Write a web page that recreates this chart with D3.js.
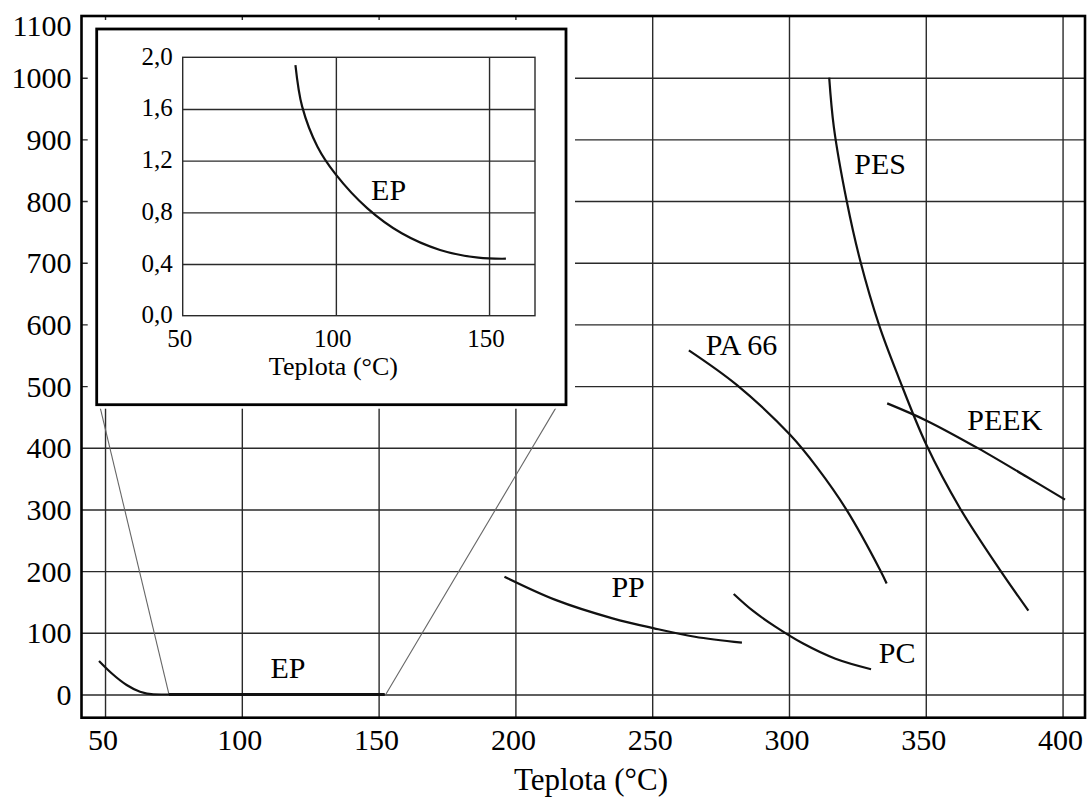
<!DOCTYPE html>
<html>
<head>
<meta charset="utf-8">
<script src="https://cdnjs.cloudflare.com/ajax/libs/d3/7.8.5/d3.min.js"></script>
<style>
  body { margin: 0; background: #fff; }
  svg text { font-family: "Liberation Serif", "Times New Roman", Times, serif; }
</style>
</head>
<body>
<script>
//tick values for the main chart and the inset
var xTicks = [50, 100, 150, 200, 250, 300, 350, 400];
var yTicks = [0, 100, 200, 300, 400, 500, 600, 700, 800, 900, 1000, 1100];
var insetXTicks = [50, 100, 150];
var insetYTicks = [0, 0.4, 0.8, 1.2, 1.6, 2.0];

//curves, [teplota, value]
var ep   = [[47.8,54.3],[52.4,34.4],[57.9,15.4],[62.8,4.5],[67.7,0.3],[73.4,0],[152.2,0]];
var pp   = [[196,191],[214.9,153],[235.5,123.5],[250.7,107.3],[265.6,93.7],[282.8,84]];
var pc   = [[279.8,163],[287,135],[295,110],[305,83],[317,58],[330,41]];
var pa66 = [[263.4,558],[280.9,502],[300.4,421],[310.1,369],[321.1,299],[333.3,202],[335.7,180]];
var pes  = [[314.7,1000],[316.4,920],[321.1,800],[326,704],[333,598],[340,515],[350.3,404],[362.5,302],[377.1,202],[387.5,136]];
var peek = [[335.9,472],[350.3,444],[369.2,399],[386.9,353],[400.9,316]];

//EP curve of the inset (zoomed in)
var epInset = [[86.8,1.94],[89,1.618],[94,1.308],[99.7,1.102],[110.3,0.831],[121.5,0.638],[134,0.509],[146.5,0.449],[155.5,0.441]];

//lines joining the inset to the flat part of EP
var connectors = [
  [[47.55,477.7],[73.4,0]],
  [[216.3,476],[152.6,0]]
];

//curve names and where they sit
var labelNames = ["EP", "PP", "PC", "PA 66", "PES", "PEEK"];
var labelX = [110.5, 235.1, 332.8, 269.6, 323.9, 365.2];
var labelY = [26.7, 157.5, 50.4, 550.2, 843.1, 428.7];

var W = 1088, H = 803;
var margin = { top: 16, right: 3, bottom: 85.3, left: 81.5 };
var serif = "'Liberation Serif', 'Times New Roman', Times, serif";

var svg = d3.select("body").append("svg")
    .attr("width", W)
    .attr("height", H)
    .attr("font-family", serif);

//main scales, the domain runs a little past the ticks like the original frame
var x = d3.scaleLinear().domain([41.4, 408.2]).range([margin.left, W - margin.right]);
var y = d3.scaleLinear().domain([-37.6, 1100]).range([H - margin.bottom, margin.top]);

var line = d3.line()
    .x(function(d) { return x(d[0]); })
    .y(function(d) { return y(d[1]); })
    .curve(d3.curveCatmullRom.alpha(0.5));

//gridlines
svg.append("g")
    .attr("transform", "translate(0," + (H - margin.bottom) + ")")
    .call(d3.axisBottom(x).tickValues(xTicks).tickSize(-(H - margin.bottom - margin.top)).tickFormat(""))
    .call(function(g) { g.select(".domain").remove(); })
    .selectAll("line").attr("stroke", "#2a2a2a").attr("stroke-width", 1.4);

svg.append("g")
    .attr("transform", "translate(" + margin.left + ",0)")
    .call(d3.axisLeft(y).tickValues(yTicks.slice(0, -1)).tickSize(-(W - margin.left - margin.right)).tickFormat(""))
    .call(function(g) { g.select(".domain").remove(); })
    .selectAll("line").attr("stroke", "#2a2a2a").attr("stroke-width", 1.4);

//thin connector lines to the inset
svg.selectAll(".conn")
    .data(connectors)
  .enter().append("path")
    .attr("class", "conn")
    .attr("d", d3.line().x(function(d) { return x(d[0]); }).y(function(d) { return y(d[1]); }))
    .attr("fill", "none")
    .attr("stroke", "#666")
    .attr("stroke-width", 1.1);

//material curves (EP keeps monotone so it does not dip under zero)
svg.append("path")
    .attr("d", line.curve(d3.curveMonotoneX)(ep))
    .attr("fill", "none")
    .attr("stroke", "#111")
    .attr("stroke-width", 2.2);
line.curve(d3.curveCatmullRom.alpha(0.5));

var curves = [pp, pc, pa66, pes, peek];
svg.selectAll(".curve")
    .data(curves)
  .enter().append("path")
    .attr("class", "curve")
    .attr("d", line)
    .attr("fill", "none")
    .attr("stroke", "#111")
    .attr("stroke-width", 2.2);

//flat part of EP is drawn heavier
svg.append("path")
    .attr("d", d3.line().x(function(d) { return x(d[0]); }).y(function(d) { return y(d[1]); })(ep.slice(-2)))
    .attr("stroke", "#111")
    .attr("stroke-width", 3);

//curve labels
svg.selectAll(".lbl")
    .data(labelNames)
  .enter().append("text")
    .attr("class", "lbl")
    .attr("x", function(d, i) { return x(labelX[i]); })
    .attr("y", function(d, i) { return y(labelY[i]); })
    .attr("font-size", 30)
    .text(function(d) { return d; });

//main frame
svg.append("rect")
    .attr("x", margin.left)
    .attr("y", margin.top)
    .attr("width", W - margin.left - margin.right)
    .attr("height", H - margin.top - margin.bottom)
    .attr("fill", "none")
    .attr("stroke", "#000")
    .attr("stroke-width", 2.6);

//tick labels, 1100 is pushed down a little so it stays inside the page
svg.selectAll(".ylab")
    .data(yTicks)
  .enter().append("text")
    .attr("class", "ylab")
    .attr("x", margin.left - 10)
    .attr("y", function(d) { return Math.max(y(d), 25); })
    .attr("dy", "0.35em")
    .attr("text-anchor", "end")
    .attr("font-size", 30)
    .text(function(d) { return d; });

svg.selectAll(".xlab")
    .data(xTicks)
  .enter().append("text")
    .attr("class", "xlab")
    .attr("x", function(d) { return x(d) - 2; })
    .attr("y", 750)
    .attr("text-anchor", "middle")
    .attr("font-size", 30)
    .text(function(d) { return d; });

//x axis title
svg.append("text")
    .attr("x", 591)
    .attr("y", 790)
    .attr("text-anchor", "middle")
    .attr("font-size", 31)
    .text("Teplota (°C)");

// ---------- inset ----------
var box = { left: 96.7, top: 29, right: 566, bottom: 404.7 };

//white gap around the inset hides the grid behind it
svg.append("rect")
    .attr("x", box.left - 9)
    .attr("y", box.top - 9)
    .attr("width", box.right - box.left + 18)
    .attr("height", box.bottom - box.top + 13)
    .attr("fill", "#fff");

svg.append("rect")
    .attr("x", box.left)
    .attr("y", box.top)
    .attr("width", box.right - box.left)
    .attr("height", box.bottom - box.top)
    .attr("fill", "#fff")
    .attr("stroke", "#000")
    .attr("stroke-width", 2.8);

var ix = d3.scaleLinear().domain([50, 165]).range([182.7, 535]);
var iy = d3.scaleLinear().domain([0, 2]).range([315.7, 57.3]);

var comma = function(d) { return d3.format(".1f")(d).replace(".", ","); };

//inset gridlines
svg.append("g")
    .attr("transform", "translate(0," + iy(0) + ")")
    .call(d3.axisBottom(ix).tickValues(insetXTicks.slice(1)).tickSize(-(iy(0) - iy(2))).tickFormat(""))
    .call(function(g) { g.select(".domain").remove(); })
    .selectAll("line").attr("stroke", "#2a2a2a").attr("stroke-width", 1.4);

svg.append("g")
    .attr("transform", "translate(" + ix(50) + ",0)")
    .call(d3.axisLeft(iy).tickValues(insetYTicks.slice(1, -1)).tickSize(-(ix(165) - ix(50))).tickFormat(""))
    .call(function(g) { g.select(".domain").remove(); })
    .selectAll("line").attr("stroke", "#2a2a2a").attr("stroke-width", 1.4);

svg.append("rect")
    .attr("x", ix(50))
    .attr("y", iy(2))
    .attr("width", ix(165) - ix(50))
    .attr("height", iy(0) - iy(2))
    .attr("fill", "none")
    .attr("stroke", "#2a2a2a")
    .attr("stroke-width", 1.4);

svg.append("path")
    .attr("d", d3.line()
        .x(function(d) { return ix(d[0]); })
        .y(function(d) { return iy(d[1]); })
        .curve(d3.curveCatmullRom.alpha(0.5))(epInset))
    .attr("fill", "none")
    .attr("stroke", "#111")
    .attr("stroke-width", 2.2);

svg.append("text")
    .attr("x", ix(111.5))
    .attr("y", iy(0.896))
    .attr("font-size", 30)
    .text("EP");

svg.selectAll(".iylab")
    .data(insetYTicks)
  .enter().append("text")
    .attr("class", "iylab")
    .attr("x", ix(50) - 10)
    .attr("y", function(d) { return iy(d); })
    .attr("dy", "0.3em")
    .attr("text-anchor", "end")
    .attr("font-size", 25)
    .text(comma);

svg.selectAll(".ixlab")
    .data(insetXTicks)
  .enter().append("text")
    .attr("class", "ixlab")
    .attr("x", function(d) { return ix(d) - 3; })
    .attr("y", 346.7)
    .attr("text-anchor", "middle")
    .attr("font-size", 25)
    .text(function(d) { return d; });

svg.append("text")
    .attr("x", 333.4)
    .attr("y", 375)
    .attr("text-anchor", "middle")
    .attr("font-size", 26)
    .text("Teplota (°C)");
</script>
</body>
</html>
